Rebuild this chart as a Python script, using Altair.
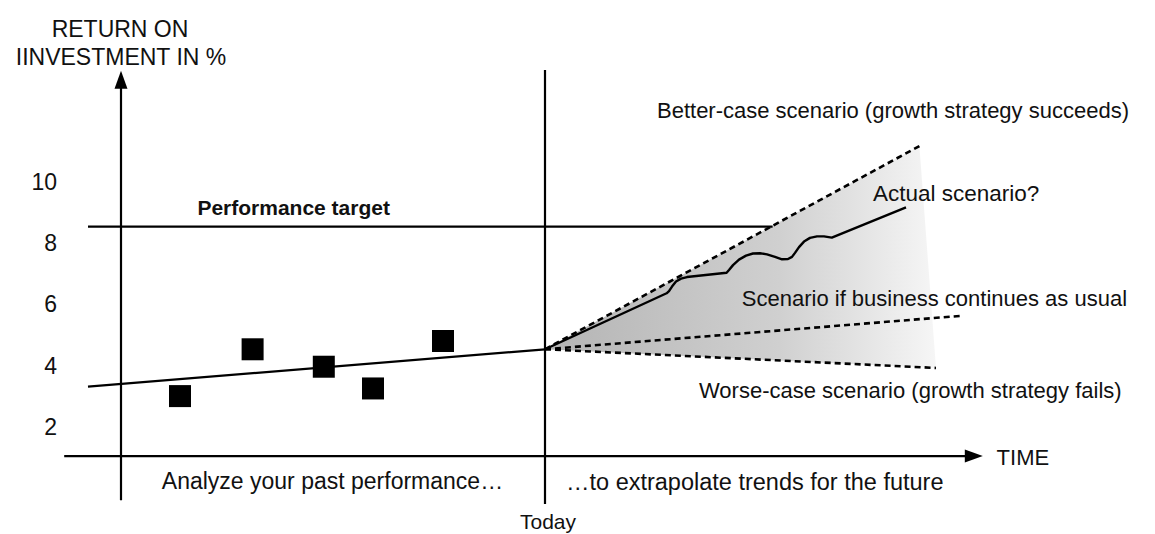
import altair as alt
import pandas as pd

# ---------------- data (time in units, Today = 0; ROI in %) ----------------
tick_values = [2, 4, 6, 8, 10]

past_t = [-9.125, -7.31, -5.53, -4.30, -2.55]
past_roi = [3.00, 4.53, 3.96, 3.25, 4.80]

trend_t = [-11.425, 0.0]
trend_roi = [3.31, 4.53]

target_roi = 8.54
target_t = [-11.425, 5.69]

today_roi = 4.53
better_end = (9.36, 11.17)
usual_end = (10.375, 5.62)
worse_end = (9.775, 3.92)

actual_t = [0.0, 3.04, 3.10, 3.175, 3.275, 3.40, 3.55, 4.54, 4.60, 4.70, 4.85,
            5.025, 5.20, 5.375, 5.55, 5.75, 5.925, 6.075, 6.175, 6.25, 6.35,
            6.475, 6.625, 6.80, 6.975, 7.17, 9.025]
actual_roi = [4.53, 6.36, 6.43, 6.58, 6.745, 6.84, 6.89, 7.03, 7.12, 7.28, 7.46,
              7.59, 7.66, 7.67, 7.63, 7.55, 7.47, 7.48, 7.55, 7.68, 7.87,
              8.05, 8.17, 8.22, 8.22, 8.18, 9.17]

# ---------------- scales ----------------
X_DOM = [-13.425, 15.05]
Y_DOM = [-1.5065, 15.683]
xs = alt.Scale(domain=X_DOM, nice=False, zero=False)
ys = alt.Scale(domain=Y_DOM, nice=False, zero=False)
FONT = "Liberation Sans"
INK = "#000000"
TXT = "#111111"


def X(f="t"):
    return alt.X(f, type="quantitative", scale=xs, axis=None)


def Y(f="v"):
    return alt.Y(f, type="quantitative", scale=ys, axis=None)


def seg(t1, v1, t2, v2):
    return pd.DataFrame({"t": [t1], "v": [v1], "t2": [t2], "v2": [v2]})


def rule(df, width=2.2, dash=None):
    kw = dict(color=INK, strokeWidth=width)
    if dash:
        kw["strokeDash"] = dash
    return alt.Chart(df).mark_rule(**kw).encode(
        x=X(), y=Y(), x2="t2:Q", y2="v2:Q")


layers = []

# shaded fan of scenarios
worse_at = today_roi + (worse_end[1] - today_roi) * better_end[0] / worse_end[0]
fan = pd.DataFrame({
    "t": [0.0, better_end[0], worse_end[0]],
    "v": [today_roi, better_end[1], worse_end[1]],
    "v2": [today_roi, worse_at, worse_end[1]],
})
grad = alt.Gradient(
    gradient="linear",
    stops=[alt.GradientStop(color="#b4b4b4", offset=0),
           alt.GradientStop(color="#d0d0d0", offset=0.6),
           alt.GradientStop(color="#f6f6f6", offset=1)],
    x1=0, x2=1, y1=0, y2=0)
layers.append(alt.Chart(fan).mark_area(color=grad, opacity=1).encode(
    x=X(), y=Y(), y2="v2:Q"))

# axes frame
layers.append(rule(seg(-10.6, -0.40, -10.6, 13.1)))          # y axis
layers.append(rule(seg(-12.02, 1.04, 10.55, 1.04)))          # x axis
layers.append(rule(seg(0.0, -0.53, 0.0, 13.66)))             # Today line
arrows = pd.DataFrame({"t": [-10.6], "v": [13.34]})
layers.append(alt.Chart(arrows).mark_point(
    shape="M0,-1L0.72,1L-0.72,1Z", filled=True, size=324, color=INK,
    opacity=1, strokeWidth=0).encode(x=X(), y=Y()))
arrows2 = pd.DataFrame({"t": [10.72], "v": [1.04]})
layers.append(alt.Chart(arrows2).mark_point(
    shape="M1,0L-1,-0.72L-1,0.72Z", filled=True, size=324, color=INK,
    opacity=1, strokeWidth=0).encode(x=X(), y=Y()))

# performance target
layers.append(rule(seg(target_t[0], target_roi, target_t[1], target_roi)))

# trend line
layers.append(rule(seg(trend_t[0], trend_roi[0], trend_t[1], trend_roi[1])))

# scenario dashed lines
for end in (better_end, usual_end, worse_end):
    layers.append(rule(seg(0.0, today_roi, end[0], end[1]), width=2.6, dash=[6, 4]))

# actual scenario
act = pd.DataFrame({"t": actual_t, "v": actual_roi})
layers.append(alt.Chart(act).mark_line(color=INK, strokeWidth=2.4,
                                       interpolate="linear",
                                       strokeJoin="round").encode(
    x=X(), y=Y(), order="t:Q"))

# past performance squares
past = pd.DataFrame({"t": past_t, "v": past_roi})
layers.append(alt.Chart(past).mark_square(size=484, color=INK, opacity=1).encode(
    x=X(), y=Y()))

# tick labels
ticks = pd.DataFrame({"t": [-12.2] * len(tick_values), "v": tick_values,
                      "label": [str(v) for v in tick_values]})
layers.append(alt.Chart(ticks).mark_text(
    font=FONT, fontSize=23, align="right", baseline="alphabetic", dy=8,
    color=TXT).encode(x=X(), y=Y(), text="label:N"))

# annotations
ann = [
    ("RETURN ON", -10.625, 14.745, "center", 23, "normal"),
    ("IINVESTMENT IN %", -10.6, 13.82, "center", 23, "normal"),
    ("Performance target", -8.69, 8.92, "left", 21, "bold"),
    ("Better-case scenario (growth strategy succeeds)", 2.8, 12.09, "left", 22, "normal"),
    ("Actual scenario?", 8.2, 9.38, "left", 22.5, "normal"),
    ("Scenario if business continues as usual", 4.92, 5.94, "left", 22, "normal"),
    ("Worse-case scenario (growth strategy fails)", 3.85, 2.94, "left", 22, "normal"),
    ("TIME", 11.29, 0.75, "left", 22, "normal"),
    ("Analyze your past performance…", -9.58, -0.05, "left", 23, "normal"),
    ("…to extrapolate trends for the future", 0.525, -0.07, "left", 23.5, "normal"),
    ("Today", 0.075, -1.343, "center", 21, "normal"),
]
for text, t, v, align, size, weight in ann:
    df = pd.DataFrame({"t": [t], "v": [v], "label": [text]})
    layers.append(alt.Chart(df).mark_text(
        font=FONT, fontSize=size, fontWeight=weight, align=align,
        baseline="alphabetic", color=TXT).encode(
        x=X(), y=Y(), text="label:N"))

chart = alt.layer(*layers).properties(
    width=1139, height=526, padding=0, background="white",
    autosize=alt.AutoSizeParams(type="none"),
).configure_view(strokeWidth=0)

chart.save("out.html", embed_options={"renderer": "svg", "actions": False})
